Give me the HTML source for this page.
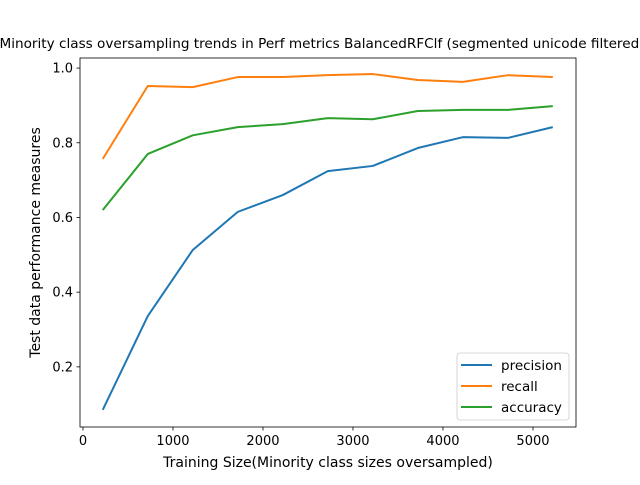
<!DOCTYPE html>
<html><head><meta charset="utf-8"><style>
body{margin:0;background:#fff;}
svg text{font-family:"DejaVu Sans","Liberation Sans",sans-serif;}
</style></head><body>
<svg id="chart" width="640" height="480">
<rect width="640" height="480" fill="#fff"/>
</svg>
<script>
const xValues=[220,720,1220,1720,2220,2720,3220,3720,4220,4720,5220];
const precision=[0.085,0.336,0.513,0.615,0.66,0.724,0.738,0.786,0.815,0.813,0.842];
const recall=[0.757,0.952,0.949,0.976,0.976,0.981,0.984,0.968,0.963,0.981,0.976];
const accuracy=[0.62,0.77,0.82,0.842,0.85,0.866,0.863,0.885,0.888,0.888,0.898];
const xTicks=[0,1000,2000,3000,4000,5000];
const yTicks=[0.2,0.4,0.6,0.8,1.0];
const L=80,R=576,T=58,B=427;
const xMin=-33,xMax=5478,yMin=0.039,yMax=1.027;
const sx=v=>L+(v-xMin)/(xMax-xMin)*(R-L);
const sy=v=>B-(v-yMin)/(yMax-yMin)*(B-T);
const svg=document.getElementById('chart');
const NS='http://www.w3.org/2000/svg';
function mk(t,a,p){const e=document.createElementNS(NS,t);for(const k in a)e.setAttribute(k,a[k]);(p||svg).appendChild(e);return e;}
const series=[["precision",precision,"#1f77b4"],["recall",recall,"#ff7f0e"],["accuracy",accuracy,"#2ca02c"]];
series.forEach(s=>{
 const p=mk('polyline',{points:xValues.map((x,i)=>sx(x)+','+sy(s[1][i])).join(' '),fill:'none',stroke:s[2],'stroke-width':2,'stroke-linejoin':'round'});
 
 
});
const frame=mk('rect',{x:L,y:T,width:R-L,height:B-T,fill:'none',stroke:'#000','stroke-width':0.8});


xTicks.forEach(v=>{
 mk('line',{x1:sx(v),x2:sx(v),y1:B,y2:B+3.5,stroke:'#000','stroke-width':0.8});
 const t=mk('text',{x:sx(v),y:B+18,'text-anchor':'middle','font-size':13});t.textContent=v;
 
 
});
yTicks.forEach(v=>{
 mk('line',{x1:L-3.5,x2:L,y1:sy(v),y2:sy(v),stroke:'#000','stroke-width':0.8});
 const t=mk('text',{x:L-7,y:sy(v)+4.5,'text-anchor':'end','font-size':13});t.textContent=v.toFixed(1);
 
 
});
const xt=mk('text',{x:(L+R)/2,y:467,'text-anchor':'middle','font-size':14});xt.textContent='Training Size(Minority class sizes oversampled)';


const yt=mk('text',{x:0,y:0,'text-anchor':'middle','font-size':14,transform:`translate(40,${(T+B)/2}) rotate(-90)`});yt.textContent='Test data performance measures';


const tt=mk('text',{x:322,y:48,'text-anchor':'middle','font-size':13.6});tt.textContent='Minority class oversampling trends in Perf metrics BalancedRFClf (segmented unicode filtered)';


const lg=mk('g',{});


mk('rect',{x:457,y:353,width:112,height:67,rx:3,fill:'#fff',stroke:'#ccc','stroke-width':0.8},lg);
series.forEach((s,i)=>{
 const y=365+i*21;
 mk('line',{x1:461,x2:492,y1:y,y2:y,stroke:s[2],'stroke-width':2},lg);
 const t=mk('text',{x:501,y:y+5,'font-size':13.5},lg);t.textContent=s[0];
 
 
});
</script>
</body></html>
